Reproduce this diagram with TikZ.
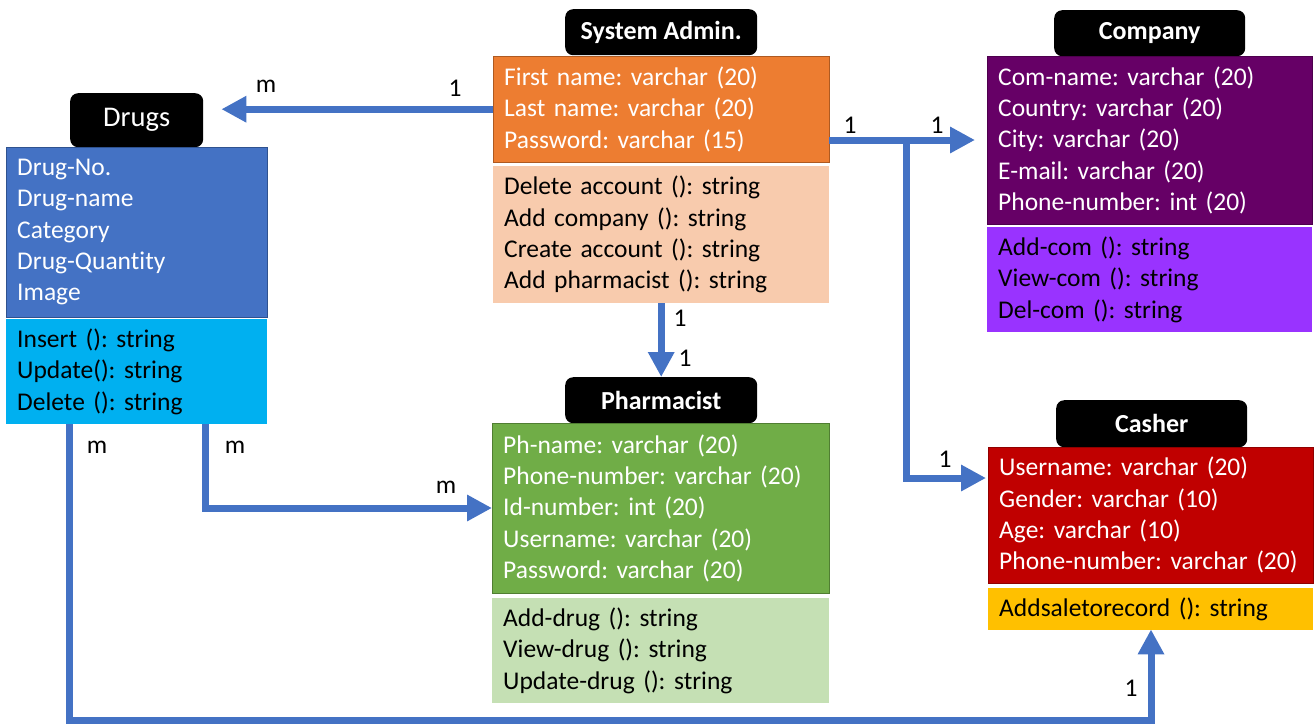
\documentclass[tikz,border=0pt]{standalone}
\usepackage{fontspec}
\setmainfont{Carlito}[Ligatures=NoCommon]
\frenchspacing
\usetikzlibrary{arrows.meta}
\definecolor{link}{HTML}{4472C4}
\definecolor{drugA}{HTML}{4472C4}\definecolor{drugB}{HTML}{2F528F}\definecolor{drugM}{HTML}{00B0F0}
\definecolor{admA}{HTML}{ED7D31}\definecolor{admB}{HTML}{AE5A21}\definecolor{admM}{HTML}{F8CBAD}
\definecolor{comA}{HTML}{660066}\definecolor{comB}{HTML}{4D004D}\definecolor{comM}{HTML}{9933FF}
\definecolor{phA}{HTML}{70AD47}\definecolor{phB}{HTML}{507E32}\definecolor{phM}{HTML}{C5E0B4}
\definecolor{casA}{HTML}{C00000}\definecolor{casB}{HTML}{900000}\definecolor{casM}{HTML}{FFC000}
\tikzset{
  x=1pt, y=-1pt,
  txt/.style={font=\fontsize{25.5}{31.3}\selectfont},
  box/.style={txt, anchor=north west, align=left, inner xsep=11pt, inner ysep=0pt,
    minimum width=#1, text width=#1-22pt},
  attrbox/.style n args={3}{box=#1, minimum height=#2, fill=#3},
  header/.style={fill=black, rounded corners=8pt, text=white, anchor=north west,
    inner sep=0pt, font=\fontsize{26}{30}\selectfont\bfseries},
  conn/.style={draw=link, line width=7pt, line join=miter},
  tip/.style={-{Triangle[length=25pt,width=25pt]}},
  card/.style={txt, inner sep=0pt}
}
\begin{document}
\begin{tikzpicture}
\useasboundingbox (0,0) rectangle (1314,724);

% Drugs
\node[header, minimum width=133pt, minimum height=54pt, font=\fontsize{28.5}{32}\selectfont] (drugsH) at (70,93) {Drugs};
\node[attrbox={261pt}{170pt}{drugA}, draw=drugB, text=white] (drugsA) at (6,147)
  {Drug-No.\\Drug-name\\Category\\Drug-Quantity\\Image};
\node[attrbox={261pt}{105pt}{drugM}] (drugsM) at (6,319)
  {Insert (): string\\Update(): string\\Delete (): string};

% System Admin.
\node[header, minimum width=192pt, minimum height=46pt] (adminH) at (565,9) {System Admin.};
\node[attrbox={336pt}{106pt}{admA}, draw=admB, text=white] (adminA) at (493,56)
  {First name: varchar (20)\\Last name: varchar (20)\\Password: varchar (15)};
\node[attrbox={336pt}{137pt}{admM}] (adminM) at (493,166)
  {Delete account (): string\\Add company (): string\\Create account (): string\\Add pharmacist (): string};

% Company
\node[header, minimum width=191pt, minimum height=46pt] (companyH) at (1054,10) {Company};
\node[attrbox={325pt}{168pt}{comA}, draw=comB, text=white] (companyA) at (987,56)
  {Com-name: varchar (20)\\Country: varchar (20)\\City: varchar (20)\\E-mail: varchar (20)\\Phone-number: int (20)};
\node[attrbox={325pt}{105pt}{comM}] (companyM) at (987,227)
  {Add-com (): string\\View-com (): string\\Del-com (): string};

% Pharmacist
\node[header, minimum width=192pt, minimum height=46pt] (pharmH) at (565,377) {Pharmacist};
\node[attrbox={337pt}{170pt}{phA}, draw=phB, text=white] (pharmA) at (492,423)
  {Ph-name: varchar (20)\\Phone-number: varchar (20)\\Id-number: int (20)\\Username: varchar (20)\\Password: varchar (20)};
\node[attrbox={337pt}{105pt}{phM}] (pharmM) at (492,598)
  {Add-drug (): string\\View-drug (): string\\Update-drug (): string};

% Casher
\node[header, minimum width=191pt, minimum height=47pt] (casherH) at (1056,400) {Casher};
\node[attrbox={325pt}{136pt}{casA}, draw=casB, text=white] (casherA) at (988,447)
  {Username: varchar (20)\\Gender: varchar (10)\\Age: varchar (10)\\Phone-number: varchar (20)};
\node[attrbox={325pt}{42pt}{casM}] (casherM) at (988,588)
  {Addsaletorecord (): string};

% bend points of the connectors
\coordinate (j1) at (906,140);
\coordinate (j2) at (906,478);
\coordinate (b1) at (205,508);
\coordinate (b2) at (69,720);
\coordinate (b3) at (1151,720);

% connectors
\draw[conn, tip, shorten >=18pt] (adminA.west) -- (adminA.west -| drugsH.east);
\draw[conn, tip, shorten >=12pt] (adminA.east |- j1) -- (j1) -- (companyA.west |- j1);
\draw[conn, tip, shorten >=2pt] (j1) -- (j2) -- (casherA.west |- j2);
\draw[conn, tip] (adminM.south) -- (pharmH.north);
\draw[conn, tip] (drugsM.south -| b1) -- (b1) -- (pharmA.west |- b1);
\draw[conn, tip, shorten >=-1pt] (drugsM.south -| b2) -- (b2) -- (b3) -- (casherM.south -| b3);

% multiplicities
\node[card] (c1) at (266,86) {m};
\node[card] (c2) at (455,88) {1};
\node[card] (c3) at (850,125) {1};
\node[card] (c4) at (937,125) {1};
\node[card] (c5) at (680,318) {1};
\node[card] (c6) at (685,358) {1};
\node[card] (c7) at (97,447) {m};
\node[card] (c8) at (235,447) {m};
\node[card] (c9) at (446,487) {m};
\node[card] (c10) at (945,459) {1};
\node[card] (c11) at (1131,688) {1};
\end{tikzpicture}
\end{document}
